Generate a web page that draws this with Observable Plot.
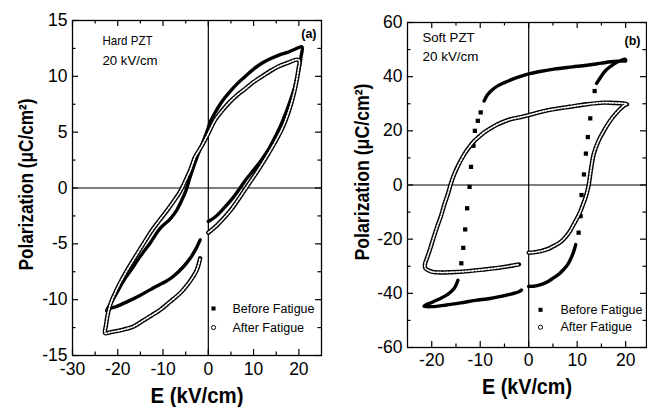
<!DOCTYPE html>
<html>
<head>
<meta charset="utf-8">
<script src="https://cdn.jsdelivr.net/npm/d3@7"></script>
<script src="https://cdn.jsdelivr.net/npm/@observablehq/plot@0.6"></script>
<style>
  html, body { margin: 0; padding: 0; background: #fff; }
  #wrap { display: flex; width: 647px; height: 407px; overflow: hidden; }
</style>
</head>
<body>
<div id="wrap"></div>
<script>
// ---------- Data (E in kV/cm, P in µC/cm²) ----------
// (a) Hard PZT
const hardBefore = [[0,-3.0],[1.5,-2.6],[3,-2.0],[5.2,-1.0],[7,0.0],[8.2,0.7],[10,1.6],[11.9,2.6],[13.5,3.6],[14.8,4.6],[16,5.6],[17,6.6],[18,7.7],[18.9,8.8],[19.6,9.9],[20.1,10.8],[20.5,11.8],[20.7,12.65],
  [19,12.4],[17.5,12.15],[15.6,11.9],[13.8,11.6],[11.9,11.2],[10,10.65],[8.2,10.0],[6.3,9.3],[4.5,8.5],[3.3,7.9],[2.3,7.3],[1.3,6.6],[0.4,5.9],[0,5.4],
  [-1,4.3],[-2,3.3],[-3,2.2],[-4,1.0],[-5,-0.3],[-6,-1.2],[-7,-2.0],[-8.5,-2.8],[-10.6,-3.6],[-12.8,-4.9],[-15,-6.1],[-17,-7.3],[-18.7,-8.3],[-20.5,-9.6],[-21.5,-10.3],[-22.5,-11.0],
  [-21.7,-10.8],[-20.2,-10.6],[-18,-10.2],[-15,-9.6],[-12.8,-9.1],[-11,-8.7],[-9.5,-8.4],[-7.7,-7.9],[-5.5,-7.05],[-4,-6.3],[-2.8,-5.5],[-1.8,-4.65]];
const hardAfter = [[0,-4.0],[2,-3.3],[4.9,-2.0],[7,-0.8],[9,0.4],[11,1.6],[13,2.9],[15,4.3],[16.5,5.5],[17.8,6.9],[18.8,8.3],[19.5,9.6],[19.9,10.6],[20.1,11.4],
  [19.6,11.5],[17.5,11.2],[15.6,10.9],[13.8,10.5],[11.9,10.0],[10,9.5],[8.2,8.9],[6.3,8.3],[4.5,7.6],[3,6.9],[1.5,6.1],[0,4.9],
  [-1,4.1],[-2,3.4],[-2.9,2.8],[-4,1.6],[-5,0.7],[-6.2,-0.3],[-7.5,-1.1],[-9.1,-2.0],[-11,-3.0],[-12.8,-4.0],[-14.5,-5.1],[-16.5,-6.4],[-18,-7.4],[-19.5,-8.5],[-20.7,-9.5],[-21.7,-10.5],[-22.3,-11.5],[-22.6,-12.3],[-22.8,-13.0],
  [-21.5,-12.9],[-20,-12.8],[-18,-12.6],[-16.5,-12.4],[-14.5,-11.9],[-12.5,-11.4],[-10.6,-10.9],[-8.5,-10.2],[-6.2,-9.4],[-4.5,-8.6],[-3.3,-7.9],[-2.5,-7.3],[-1.8,-6.3]];

// (b) Soft PZT, before fatigue: dense branches and sparse switching points
const softBeforeRise = [[0,-37.4],[1,-37.4],[2.5,-36.8],[4,-35.6],[5.2,-34.2],[6.3,-32.8],[7.2,-31.2],[8,-29.5],[8.6,-27.5],[9.2,-25],[9.7,-22.0]];
const softBeforeSwitchUp = [[10.3,-17.6],[10.7,-11.5],[10.9,-3.7],[11.4,3.9],[11.8,11.6],[12.2,17.7],[12.7,24.6],[13.6,34.7]];
const softBeforeTop = [[14,37.5],[14.8,39.7],[15.5,41.5],[16.2,42.8],[17.2,44.2],[18.2,45.3],[19.2,46.1],[19.9,46.4],[20,45.8],[19,45.8],[17,45.5],[15,45.0],[12,44.2],[9,43.6],[5.2,42.8],[2,41.8],[0,41.0],[-2,39.9],[-3.7,38.8],[-5,37.8],[-6.4,36.6],[-7.5,35.2],[-8.5,33.3],[-9.2,31.0]];
const softBeforeSwitchDown = [[-9.9,26.8],[-10.5,23.7],[-11.1,20],[-11.4,14.5],[-11.9,6.7],[-12.2,-0.7],[-12.7,-8.6],[-13.1,-16.4],[-13.5,-23.2],[-13.9,-28.9]];
const softBeforeBottom = [[-14.6,-35.2],[-15.3,-38],[-16.7,-40.4],[-18.7,-42.3],[-20,-43.4],[-21.1,-44.1],[-21.6,-44.8],[-20,-44.9],[-17,-44.3],[-14,-43.5],[-11,-42.6],[-8,-41.9],[-5.7,-41.1],[-3.5,-40.2],[-2,-39.4],[-1.5,-38.8]];
// (b) Soft PZT, after fatigue
const softAfter = [[0,-25.0],[1,-24.9],[2.5,-24.4],[4,-23.6],[5.2,-22.5],[6.3,-21.4],[7.2,-20.0],[8.3,-17.6],[9.3,-14.5],[10,-12.2],[10.7,-9.6],[11.2,-7.2],[11.7,-4.7],[12.1,-2.2],[12.4,0.3],[12.9,6.4],[13.4,11.3],[14.4,16.3],[15.5,20],[16.8,23.7],[18.5,27.4],[19.9,29.6],[20.3,29.8],
  [19.5,30.1],[17.5,30.3],[15.4,30.4],[12,29.8],[8.5,28.9],[5.2,28.0],[2.5,27.0],[0,25.8],[-1.6,25.1],[-3.7,24.3],[-5,23.5],[-6.4,22.4],[-7.8,21.0],[-9.2,19.4],[-10.2,17.9],[-11.2,16.3],[-12.3,13.9],[-13.3,11.3],[-14.6,7.0],[-15.4,3.8],[-16,0.8],[-16.7,-3.5],[-17.4,-7.2],[-18.1,-11.5],[-18.8,-15.0],[-19.5,-18.8],[-20.3,-23.4],[-20.9,-26.6],[-21.4,-29.3],[-21.3,-30.8],[-20.5,-31.7],[-19.8,-32.1],[-18,-32.3],[-16,-32.2],[-13,-31.9],[-9.2,-31.2],[-6,-30.5],[-3.5,-29.8],[-2,-29.3]];

// Ticks and labels
const hardXTicks = [-30,-20,-10,0,10,20];
const hardXMinor = [-25,-15,-5,5,15];
const hardYTicks = [-15,-10,-5,0,5,10,15];
const hardYMinor = [-12.5,-7.5,-2.5,2.5,7.5,12.5];
const softXTicks = [-20,-10,0,10,20];
const softXMinor = [-15,-5,5,15];
const softYTicks = [-60,-40,-20,0,20,40,60];
const softYMinor = [-50,-30,-10,10,30,50];
const legendLabels = ["Before Fatigue", "After Fatigue"];
const hardNote = ["Hard PZT", "20 kV/cm"];
const softNote = ["Soft PZT", "20 kV/cm"];
const xTitle = "E (kV/cm)";
const yTitle = "Polarization (μC/cm²)";

// ---------- Drawing ----------
const fmt = d => (d < 0 ? "-" + Math.abs(d) : String(d));
const X = d => d[0], Y = d => d[1];
const SANS = "Liberation Sans, Arial, Helvetica, sans-serif";

function ticks(xs, ys, pw, ph, len) {
  return [
    Plot.tickX(xs, {x: d => d, insetTop: ph - len, stroke: "black", strokeWidth: 1.2}),
    Plot.tickX(xs, {x: d => d, insetBottom: ph - len, stroke: "black", strokeWidth: 1.2}),
    Plot.tickY(ys, {y: d => d, insetRight: pw - len, stroke: "black", strokeWidth: 1.2}),
    Plot.tickY(ys, {y: d => d, insetLeft: pw - len, stroke: "black", strokeWidth: 1.2})
  ];
}
function filledLine(data) {
  return Plot.line(data, {x: X, y: Y, curve: "catmull-rom", stroke: "black", strokeWidth: 3.4});
}
function openLine(data) {
  return [
    Plot.line(data, {x: X, y: Y, curve: "catmull-rom", stroke: "black", strokeWidth: 4.4}),
    Plot.line(data, {x: X, y: Y, curve: "catmull-rom", stroke: "white", strokeWidth: 1.7, strokeDasharray: "1.6,1.6"})
  ];
}
function legend(dx, dy1, dy2, tdx) {
  return [
    Plot.dot([0], {frameAnchor: "bottom-left", dx, dy: dy1, symbol: "square", r: 2.3, fill: "black"}),
    Plot.dot([0], {frameAnchor: "bottom-left", dx, dy: dy2, symbol: "circle", r: 2.1, fill: "white", stroke: "black", strokeWidth: 1}),
    Plot.text([legendLabels[0]], {frameAnchor: "bottom-left", dx: tdx, dy: dy1, textAnchor: "start", lineAnchor: "middle", fontSize: 12.5, fontFamily: SANS}),
    Plot.text([legendLabels[1]], {frameAnchor: "bottom-left", dx: tdx, dy: dy2, textAnchor: "start", lineAnchor: "middle", fontSize: 12.5, fontFamily: SANS})
  ];
}
// squeeze a text to a given rendered length (reference type is condensed)
function fit(svg, label, len) {
  d3.select(svg).selectAll("text")
    .filter(function () { return this.textContent === label; })
    .attr("textLength", len).attr("lengthAdjust", "spacingAndGlyphs");
}

// Panel (a)
const A = {w: 325, h: 407, ml: 72, mr: 4, mt: 20, mb: 52};
const Apw = A.w - A.ml - A.mr, Aph = A.h - A.mt - A.mb;
const plotA = Plot.plot({
  width: A.w, height: A.h, marginLeft: A.ml, marginRight: A.mr, marginTop: A.mt, marginBottom: A.mb,
  style: {fontFamily: SANS, fontSize: "17px", background: "white", color: "black", overflow: "visible"},
  x: {domain: [-30, 25], label: null},
  y: {domain: [-15, 15], label: null},
  marks: [
    Plot.ruleX([0], {stroke: "black", strokeWidth: 1.2}),
    Plot.ruleY([0], {stroke: "black", strokeWidth: 1.2}),
    ...ticks(hardXTicks, hardYTicks, Apw, Aph, 6),
    ...ticks(hardXMinor, hardYMinor, Apw, Aph, 3.5),
    Plot.axisX(hardXTicks, {anchor: "bottom", tickSize: 0, tickPadding: 7, tickFormat: fmt, label: null, fontSize: 17.5}),
    Plot.axisY(hardYTicks, {anchor: "left", tickSize: 0, tickPadding: 5, tickFormat: fmt, label: null, fontSize: 17.5}),
    filledLine(hardBefore),
    ...openLine(hardAfter),
    Plot.frame({stroke: "black", strokeWidth: 1.3}),
    Plot.text([hardNote[0]], {frameAnchor: "top-left", dx: 30, dy: 20, textAnchor: "start", lineAnchor: "middle", fontSize: 13.5, fontFamily: SANS}),
    Plot.text([hardNote[1]], {frameAnchor: "top-left", dx: 30, dy: 40, textAnchor: "start", lineAnchor: "middle", fontSize: 13.5, fontFamily: SANS}),
    Plot.text(["(a)"], {frameAnchor: "top-right", dx: -5, dy: 13, textAnchor: "end", lineAnchor: "middle", fontSize: 12.5, fontWeight: "bold", fontFamily: SANS}),
    ...legend(141, -47, -28, 160),
    Plot.text([xTitle], {frameAnchor: "bottom", dy: 40, textAnchor: "middle", lineAnchor: "middle", fontSize: 22, fontWeight: "bold", fontFamily: SANS}),
    Plot.text([yTitle], {frameAnchor: "left", dx: -46, dy: -3.5, rotate: -90, textAnchor: "middle", lineAnchor: "middle", fontSize: 21, fontWeight: "bold", fontFamily: SANS})
  ]
});
fit(plotA, yTitle, 172);
fit(plotA, xTitle, 93);
fit(plotA, hardNote[0], 50);
fit(plotA, hardNote[1], 55);

// Panel (b)
const B = {w: 322, h: 407, ml: 82, mr: 1, mt: 22, mb: 60};
const Bpw = B.w - B.ml - B.mr, Bph = B.h - B.mt - B.mb;
const plotB = Plot.plot({
  width: B.w, height: B.h, marginLeft: B.ml, marginRight: B.mr, marginTop: B.mt, marginBottom: B.mb,
  style: {fontFamily: SANS, fontSize: "17px", background: "white", color: "black", overflow: "visible"},
  x: {domain: [-25, 24.3], label: null},
  y: {domain: [-60, 60], label: null},
  marks: [
    Plot.ruleX([0], {stroke: "black", strokeWidth: 1.2}),
    Plot.ruleY([0], {stroke: "black", strokeWidth: 1.2}),
    ...ticks(softXTicks, softYTicks, Bpw, Bph, 6),
    ...ticks(softXMinor, softYMinor, Bpw, Bph, 3.5),
    Plot.axisX(softXTicks, {anchor: "bottom", tickSize: 0, tickPadding: 6, tickFormat: fmt, label: null, fontSize: 17.5}),
    Plot.axisY(softYTicks, {anchor: "left", tickSize: 0, tickPadding: 5, tickFormat: fmt, label: null, fontSize: 17.5}),
    filledLine(softBeforeRise),
    filledLine(softBeforeTop),
    filledLine(softBeforeBottom),
    Plot.dot([...softBeforeSwitchUp, ...softBeforeSwitchDown], {x: X, y: Y, symbol: "square", r: 2.4, fill: "black"}),
    ...openLine(softAfter),
    Plot.frame({stroke: "black", strokeWidth: 1.3}),
    Plot.text([softNote[0]], {frameAnchor: "top-left", dx: 15, dy: 15.5, textAnchor: "start", lineAnchor: "middle", fontSize: 13.5, fontFamily: SANS}),
    Plot.text([softNote[1]], {frameAnchor: "top-left", dx: 15, dy: 34, textAnchor: "start", lineAnchor: "middle", fontSize: 13.5, fontFamily: SANS}),
    Plot.text(["(b)"], {frameAnchor: "top-right", dx: -6, dy: 18, textAnchor: "end", lineAnchor: "middle", fontSize: 12.5, fontWeight: "bold", fontFamily: SANS}),
    ...legend(133, -37.7, -20.3, 153),
    Plot.text([xTitle], {frameAnchor: "bottom", dy: 39.5, textAnchor: "middle", lineAnchor: "middle", fontSize: 22, fontWeight: "bold", fontFamily: SANS}),
    Plot.text([yTitle], {frameAnchor: "left", dx: -45, dy: -13, rotate: -90, textAnchor: "middle", lineAnchor: "middle", fontSize: 21, fontWeight: "bold", fontFamily: SANS})
  ]
});
fit(plotB, yTitle, 177);
fit(plotB, xTitle, 90);
fit(plotB, softNote[0], 52);
fit(plotB, softNote[1], 56);

document.getElementById("wrap").append(plotA, plotB);
</script>
</body>
</html>
